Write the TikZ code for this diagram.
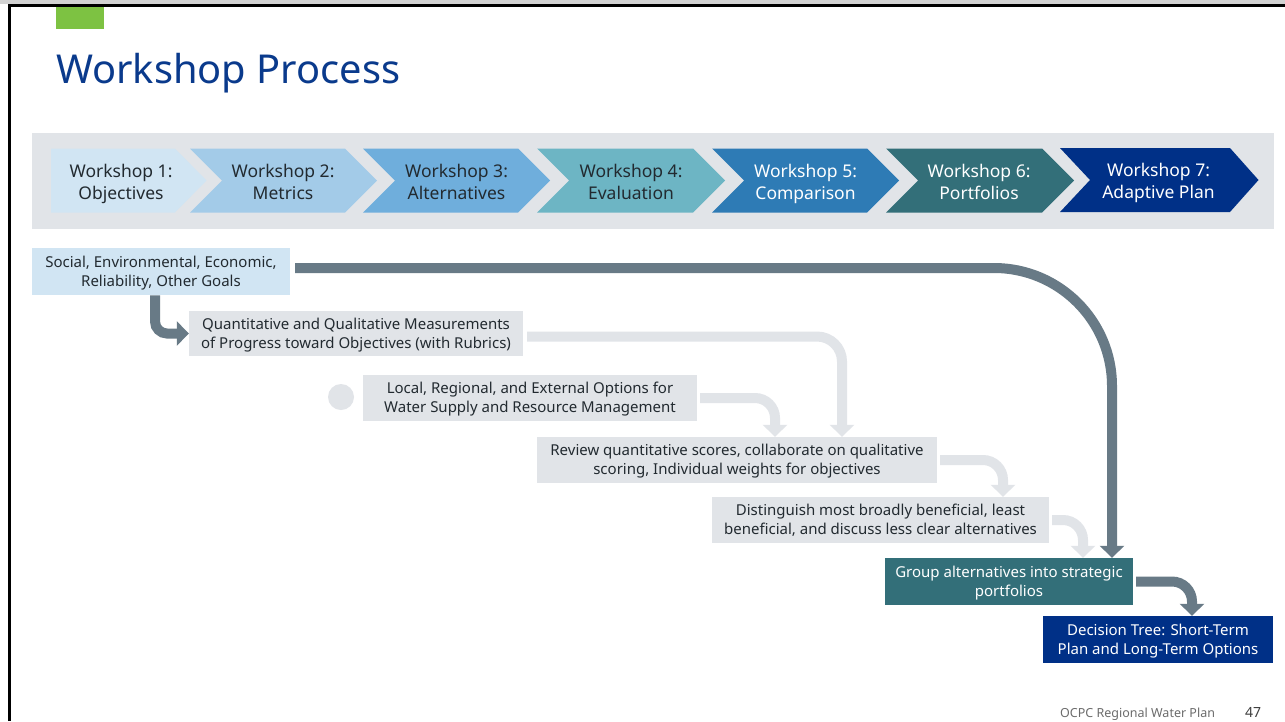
\documentclass[tikz,border=0pt]{standalone}
\usepackage{fontspec}
\setmainfont{Noto Sans}
\usetikzlibrary{arrows.meta}
\definecolor{band}{HTML}{E1E4E8}
\definecolor{cA}{HTML}{D1E5F3}
\definecolor{cB}{HTML}{A3CBE8}
\definecolor{cC}{HTML}{6FAEDC}
\definecolor{cD}{HTML}{6DB5C4}
\definecolor{cE}{HTML}{2E7BB5}
\definecolor{cF}{HTML}{336F79}
\definecolor{cG}{HTML}{003087}
\definecolor{slate}{HTML}{687A86}
\definecolor{txt}{HTML}{222A30}
\definecolor{titleblue}{HTML}{0A3A8C}
\definecolor{green}{HTML}{7DC242}
\newcommand{\twol}[2]{\strut#1\\\strut#2}
\newcommand{\twolb}[2]{\rule{0pt}{\dimexpr\ht\strutbox+3pt\relax}#1\\\strut#2}
\begin{document}
\begin{tikzpicture}[x=1pt,y=-1pt,
  chevtext/.style={align=center,inner sep=0pt,font=\fontsize{17.5}{21.5}\selectfont},
  box/.style={align=center,inner sep=0pt,font=\fontsize{15}{19}\selectfont,text=txt},
  darkarrow/.style={draw=slate,line width=10pt,-{Triangle[width=24pt,length=12pt]}},
  lightarrow/.style={draw=band,line width=10pt,-{Triangle[width=24pt,length=12pt]}}]
\useasboundingbox (0,0) rectangle (1285,721);
\fill[white] (0,0) rectangle (1285,721);
% frame
\fill[gray!35] (0,0) rectangle (1285,4);
\draw[black,line width=3pt] (9,721) -- (9,5.5) -- (1285,5.5);
\fill[green] (56,7) rectangle (104,29);
\node[anchor=base west,inner sep=0pt,text=titleblue,font=\fontsize{39.8}{44}\selectfont] (title) at (56,83) {Workshop Process};
% band
\fill[band] (32,133) rectangle (1274,229);
% chevrons
\fill[cA] (51,148.5) -- (175,148.5) -- (206.5,180.5) -- (175,212.5) -- (51,212.5) -- cycle;
\foreach \L/\R/\col in {190/345/cB,363/518/cC,537/693/cD,712/867/cE,886/1042/cF}{
  \fill[\col] (\L,148.5) -- (\R,148.5) -- ({\R+32},180.5) -- (\R,212.5) -- (\L,212.5) -- ({\L+32},180.5) -- cycle;
}
\fill[cG] (1060,148) -- (1230,148) -- (1258.5,180) -- (1230,212) -- (1060,212) -- (1090,180) -- cycle;
\node[chevtext,text=txt] (w1) at (121,184.3) {\twol{Workshop 1:}{Objectives}};
\node[chevtext,text=txt] (w2) at (283,184.3) {\twol{Workshop 2:}{Metrics}};
\node[chevtext,text=txt] (w3) at (456.5,184.3) {\twol{Workshop 3:}{Alternatives}};
\node[chevtext,text=txt] (w4) at (631,184.3) {\twol{Workshop 4:}{Evaluation}};
\node[chevtext,text=white] (w5) at (805.5,184) {\twol{Workshop 5:}{Comparison}};
\node[chevtext,text=white] (w6) at (979,184) {\twol{Workshop 6:}{Portfolios}};
\node[chevtext,text=white] (w7) at (1158.5,183) {\twol{Workshop 7:}{Adaptive Plan}};
% boxes
\node[box,fill=cA,minimum width=258pt,minimum height=47.5pt] (A) at (161,271.5) {\twolb{Social, Environmental, Economic,}{Reliability, Other Goals}};
\node[box,fill=band,minimum width=334pt,minimum height=45pt] (B) at (356,333.5) {\twolb{Quantitative and Qualitative Measurements}{of Progress toward Objectives (with Rubrics)}};
\node[circle,fill=band,minimum size=26pt,inner sep=0pt] (dot) at (341,397) {};
\node[box,fill=band,minimum width=334pt,minimum height=46pt] (C) at (530,398) {\twolb{Local, Regional, and External Options for}{Water Supply and Resource Management}};
\node[box,fill=band,minimum width=400pt,minimum height=46pt] (D) at (737,460) {\twolb{Review quantitative scores, collaborate on qualitative}{scoring, Individual weights for objectives}};
\node[box,fill=band,minimum width=337pt,minimum height=46pt] (E) at (880.5,520) {\twolb{Distinguish most broadly beneficial, least}{beneficial, and discuss less clear alternatives}};
\node[box,fill=cF,text=white,minimum width=248pt,minimum height=47pt] (F) at (1009,581.5) {\twolb{Group alternatives into strategic}{portfolios}};
\node[box,fill=cG,text=white,minimum width=230pt,minimum height=47pt] (G) at (1158,639.5) {\twolb{Decision Tree: Short-Term}{Plan and Long-Term Options}};
% connectors
\draw[lightarrow,rounded corners=25pt] ([shift={(4,3)}]B.east) -| ([xshift=105pt]D.north);
\draw[lightarrow,rounded corners=20pt] ([xshift=3pt]C.east) -| ([xshift=38pt]D.north);
\draw[lightarrow,rounded corners=20pt] ([xshift=3pt]D.east) -| ([xshift=122.5pt]E.north);
\draw[lightarrow,rounded corners=20pt] ([xshift=3pt]E.east) -| ([xshift=74pt]F.north);
\draw[darkarrow,rounded corners=118pt] ([shift={(5,-3.5)}]A.east) -| ([xshift=103pt]F.north);
\draw[darkarrow,rounded corners=12pt] ([xshift=-6pt]A.south) |- (B.west);
\draw[darkarrow,rounded corners=20pt] ([xshift=3pt]F.east) -| ([xshift=34pt]G.north);
% footer
\node[anchor=base west,inner sep=0pt,text=gray!85!black,font=\fontsize{12.5}{14}\selectfont] (foot) at (1060,717) {OCPC Regional Water Plan};
\node[anchor=base west,inner sep=0pt,text=black!75,font=\bfseries\fontsize{14}{16}\selectfont] (page) at (1245,717) {47};
\end{tikzpicture}
\end{document}
